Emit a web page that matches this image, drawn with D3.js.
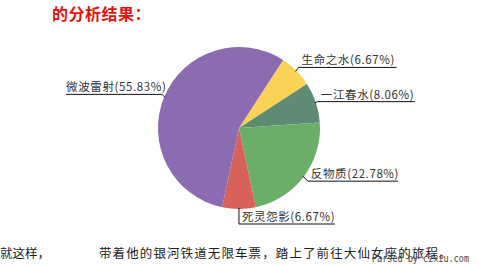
<!DOCTYPE html>
<html>
<head>
<meta charset="utf-8">
<script src="https://cdn.jsdelivr.net/npm/d3@7"></script>
<style>
  body { margin: 0; background: #fff; }
  svg { display: block; }
</style>
</head>
<body>
<div id="chart"></div>
<script>
// slice data, clockwise from the top-right
const names = ['生命之水', '一江春水', '反物质', '死灵怨影', '微波雷射'];
const shares = [6.67, 8.06, 22.78, 6.67, 55.83];
const colors = ['#f8d355', '#5f8a74', '#6aae6a', '#d6625a', '#8c6cb0'];

// label layout: elbow offset from slice edge, underline length, side
const layout = [
  { dx: 3, dy: -4, len: 98, side: 'right' },
  { dx: 3, dy: -1, len: 97, side: 'right' },
  { dx: 5, dy: 5, len: 90, side: 'right' },
  { dx: 0, dy: 16, len: 96, side: 'right' },
  { dx: -3, dy: -3, len: 96, side: 'left' }
];

const width = 477, height = 266;
const cx = 239, cy = 128, r = 81;

const svg = d3.select('#chart').append('svg')
  .attr('width', width).attr('height', height);

svg.append('rect').attr('width', width).attr('height', height).attr('fill', '#fff');

// heading
svg.append('text')
  .attr('x', 52).attr('y', 20)
  .attr('fill', '#e8100c')
  .style('font-family', '"Noto Sans CJK SC", sans-serif')
  .style('font-size', '16px')
  .style('font-weight', 'bold')
  .style('letter-spacing', '0.5px')
  .text('的分析结果：');

const rows = names.map((n, i) => ({ name: n, value: shares[i], color: colors[i], lay: layout[i] }));

const pie = d3.pie().sort(null).value(d => d.value)
  .startAngle(33 * Math.PI / 180)
  .endAngle(33 * Math.PI / 180 + 2 * Math.PI);

const arc = d3.arc().innerRadius(0).outerRadius(r);

const g = svg.append('g').attr('transform', `translate(${cx},${cy})`);

const arcs = pie(rows);

g.selectAll('path.slice').data(arcs).enter().append('path')
  .attr('class', 'slice')
  .attr('d', arc)
  .attr('fill', d => d.data.color);

// leader lines + labels
const lab = g.append('g');
arcs.forEach(a => {
  const mid = (a.startAngle + a.endAngle) / 2;
  const p0 = [Math.sin(mid) * (r - 1), -Math.cos(mid) * (r - 1)];
  const L = a.data.lay;
  const p1 = [p0[0] + L.dx, p0[1] + L.dy];
  const x2 = L.side === 'right' ? p1[0] + L.len : p1[0] - L.len;
  lab.append('polyline')
    .attr('points', [p0, p1, [x2, p1[1]]].map(p => p.join(',')).join(' '))
    .attr('fill', 'none')
    .attr('stroke', '#111')
    .attr('stroke-width', 1);
  lab.append('text')
    .attr('x', L.side === 'right' ? p1[0] + 3 : x2)
    .attr('y', p1[1] - 3)
    .attr('fill', '#333')
    .style('font-family', '"Noto Sans CJK SC", sans-serif')
    .style('font-size', '11.5px')
    .style('letter-spacing', '0.6px')
    .text(`${a.data.name}(${a.data.value.toFixed(2)}%)`);
});

// body text below the chart
svg.append('text')
  .attr('x', 0).attr('y', 258)
  .attr('fill', '#222')
  .style('font-family', '"Noto Sans CJK SC", sans-serif')
  .style('font-size', '12.5px')
  .text('就这样，');

svg.append('text')
  .attr('x', 99).attr('y', 258)
  .attr('fill', '#222')
  .style('font-family', '"Noto Sans CJK SC", sans-serif')
  .style('font-size', '12.5px')
  .style('letter-spacing', '1.1px')
  .text('带着他的银河铁道无限车票，踏上了前往大仙女座的旅程。');

svg.append('text')
  .attr('x', 372).attr('y', 262)
  .attr('fill', '#444')
  .attr('textLength', 97)
  .attr('lengthAdjust', 'spacingAndGlyphs')
  .style('font-family', '"DejaVu Sans Mono", monospace')
  .style('font-size', '10px')
  .text('Parsed by czxiu.com');
</script>
</body>
</html>
